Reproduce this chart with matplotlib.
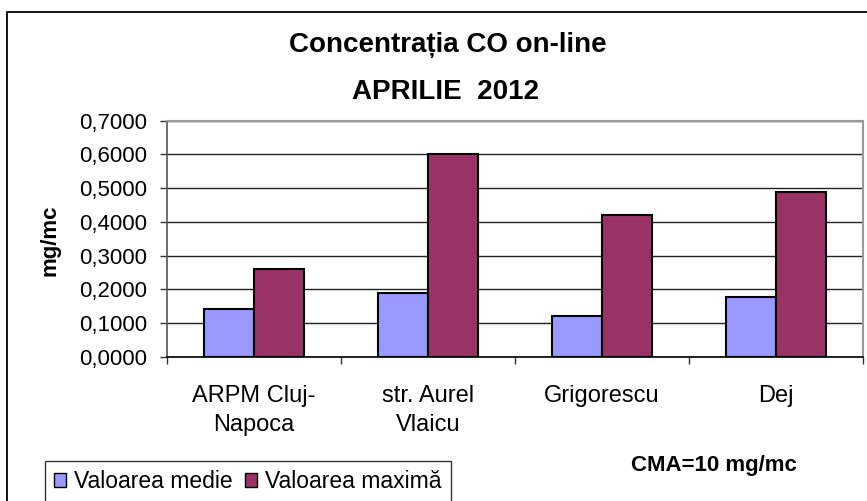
import matplotlib
matplotlib.use("Agg")
import matplotlib.pyplot as plt
from matplotlib.patches import Rectangle, Patch
import numpy as np

categories = ["ARPM Cluj-\nNapoca", "str. Aurel\nVlaicu", "Grigorescu", "Dej"]
medie = [0.142, 0.188, 0.121, 0.177]
maxima = [0.261, 0.600, 0.421, 0.488]
series_names = ["Valoarea medie", "Valoarea maximă"]
yticks = [0.0, 0.1, 0.2, 0.3, 0.4, 0.5, 0.6, 0.7]

plt.rcParams['font.family'] = ['Liberation Sans', 'DejaVu Sans']

W, H = 867, 501
fig = plt.figure(figsize=(W / 100, H / 100), dpi=100)

def fx(x):
    return x / W

def fy(y):
    return 1 - y / H

# outer chart frame (cropped at right and bottom)
fig.patches.append(Rectangle((fx(7), fy(520)), fx(900) - fx(7), fy(11.5) - fy(520),
                             transform=fig.transFigure, fill=False,
                             edgecolor='black', linewidth=1.3, zorder=0))

left, right, top, bottom = 167, 863, 120.7, 356.7
ax = fig.add_axes([fx(left), fy(bottom), fx(right) - fx(left), fy(top) - fy(bottom)])

x = np.arange(len(categories))
w = 1 / 3.5
ax.bar(x - w / 2, medie, width=w, color='#9999FF', edgecolor='black', linewidth=1.5, zorder=3)
ax.bar(x + w / 2, maxima, width=w, color='#993366', edgecolor='black', linewidth=1.5, zorder=3)

ax.set_xlim(-0.5, len(categories) - 0.5)
ax.set_ylim(0, 0.7)
ax.set_yticks(yticks)
ax.set_yticklabels([f"{v:.4f}".replace('.', ',') for v in yticks], fontsize=16)
ax.yaxis.grid(True, color='#222222', linewidth=1.0, zorder=0)
ax.set_axisbelow(True)

ax.set_xticks(x)
ax.set_xticklabels(categories, fontsize=17, linespacing=1.42, va='top')
ax.set_xticks(np.arange(len(categories) + 1) - 0.5, minor=True)
ax.tick_params(axis='x', which='major', length=0, pad=20.5)
ax.tick_params(axis='x', which='minor', length=5, width=1, color='#333333', direction='out')
ax.tick_params(axis='y', length=5, width=1, color='#333333', direction='out', pad=9)

for s in ['top', 'right']:
    ax.spines[s].set_color('#999999')
    ax.spines[s].set_linewidth(1.5)
ax.spines['left'].set_color('#555555')
ax.spines['left'].set_linewidth(1.2)
ax.spines['bottom'].set_color('black')
ax.spines['bottom'].set_linewidth(1.2)

fig.text(fx(50), fy(240), "mg/mc", rotation=90, ha='center', va='center',
         fontsize=16, fontweight='bold')

fig.text(fx(448), fy(52), "Concentrația CO on-line", ha='center', va='baseline',
         fontsize=20, fontweight='bold')
fig.text(fx(445), fy(99), "APRILIE  2012", ha='center', va='baseline',
         fontsize=20, fontweight='bold')

fig.text(fx(714), fy(465), "CMA=10 mg/mc", ha='center', va='center',
         fontsize=16, fontweight='bold')

handles = [Patch(facecolor='#9999FF', edgecolor='black', linewidth=1),
           Patch(facecolor='#993366', edgecolor='black', linewidth=1)]
leg = fig.legend(handles, series_names, loc='upper left',
                 bbox_to_anchor=(fx(45), fy(461)), ncol=2, fontsize=16.5,
                 frameon=True, fancybox=False, edgecolor='black',
                 handlelength=0.52, handleheight=0.52, handletextpad=0.35,
                 columnspacing=0.55, borderpad=0.4, borderaxespad=0)
leg.get_frame().set_linewidth(1.0)

fig.savefig("out.png", dpi=100)
